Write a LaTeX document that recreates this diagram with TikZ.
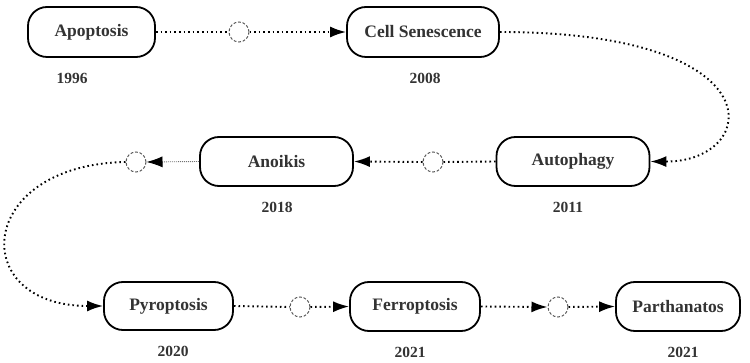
\documentclass[tikz,border=0pt]{standalone}
\usepackage{fontspec}
\setmainfont{Liberation Serif}
\usetikzlibrary{arrows.meta}
\definecolor{txt}{HTML}{333333}
\definecolor{circ}{HTML}{5a5a5a}
\begin{document}
\begin{tikzpicture}[x=1pt,y=-1pt,
  stagebox/.style={draw=black, line width=1.8pt, rounded corners=19pt, fill=white,
    inner sep=0pt, text=txt, font=\fontsize{17.5}{20}\selectfont\bfseries},
  yearlbl/.style={text=txt, font=\fontsize{15.5}{18}\selectfont\bfseries, inner sep=0pt},
  hub/.style={draw=circ, circle, line width=1pt, dash pattern=on 2.8pt off 1.8pt,
    minimum size=20pt, inner sep=0pt},
  link/.style={line width=1.9pt, dash pattern=on 1.6pt off 3pt, black},
  tip/.style={-{Latex[length=16pt,width=11pt,black]}},
  thinlink/.style={line width=0.9pt, dash pattern=on 1pt off 1pt, black!55}
]
\useasboundingbox (0,0) rectangle (750,363);

% stage boxes
\node[stagebox, minimum width=127pt, minimum height=50pt] (apo) at (91.5,32) {Apoptosis};
\node[stagebox, minimum width=152pt, minimum height=50pt] (sen) at (423,32) {Cell Senescence};
\node[stagebox, minimum width=153pt, minimum height=49pt] (aut) at (573,161.5) {Autophagy};
\node[stagebox, minimum width=153pt, minimum height=49pt] (ano) at (276.5,161.5) {Anoikis};
\node[stagebox, minimum width=129pt, minimum height=48pt] (pyr) at (168.5,306) {Pyroptosis};
\node[stagebox, minimum width=130pt, minimum height=49pt] (fer) at (415,306.5) {Ferroptosis};
\node[stagebox, minimum width=124pt, minimum height=49pt] (par) at (678,306.5) {Parthanatos};

% years
\node[yearlbl] (y1) at (72,78) {1996};
\node[yearlbl] (y2) at (425,78) {2008};
\node[yearlbl] (y3) at (568,207) {2011};
\node[yearlbl] (y4) at (277,207) {2018};
\node[yearlbl] (y5) at (173,351) {2020};
\node[yearlbl] (y6) at (410,352) {2021};
\node[yearlbl] (y7) at (683,352) {2021};

% hubs
\node[hub] (c1) at (239,32) {};
\node[hub] (c2) at (433,162) {};
\node[hub] (c3) at (136,162) {};
\node[hub] (c4) at (300,307) {};
\node[hub] (c5) at (558,307) {};

% connectors
\draw[link] (apo.east) -- (c1.west);
\draw[link, tip] (c1.east) -- (sen.west);
\draw[link, tip] (sen.east) .. controls (780,32) and (760,162) .. (aut.east);
\draw[link] (aut.west) -- (c2.east);
\draw[link, tip] (c2.west) -- (ano.east);
\draw[thinlink, tip] (ano.west) -- (c3.east);
\draw[link, tip] (c3.west) .. controls (-25,165) and (-33,306) .. (pyr.west);
\draw[link] (pyr.east) -- (c4.west);
\draw[link, tip] (c4.east) -- (fer.west);
\draw[link, tip] (fer.east) -- (c5.west);
\draw[link, tip] (c5.east) -- (par.west);
\end{tikzpicture}
\end{document}
